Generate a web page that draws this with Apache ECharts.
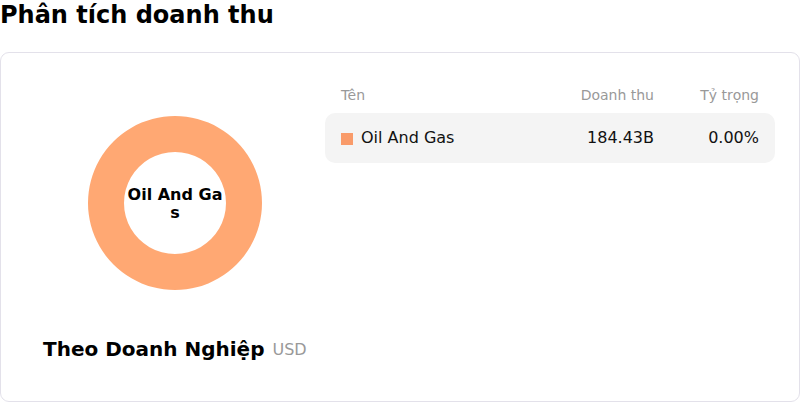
<!DOCTYPE html>
<html>
<head>
<meta charset="utf-8">
<script src="https://cdn.jsdelivr.net/npm/echarts@6/dist/echarts.min.js"></script>
<style>
	body { margin: 0; width: 800px; height: 402px; position: relative; font-family: "DejaVu Sans", sans-serif; background: #fff; overflow: hidden; }
	#pageTitle { position: absolute; left: 0; top: 1px; font-size: 24px; font-weight: bold; color: #000; line-height: 28px; }
	#card { position: absolute; left: 0; top: 52px; width: 798px; height: 348px; border: 1px solid #e3e1ea; border-radius: 9px; }
	#revenueChart { position: absolute; left: 0; top: 0; width: 800px; height: 402px; }
	.th { position: absolute; top: 86px; font-size: 14px; color: #999; line-height: 18px; }
	.row { position: absolute; left: 325px; width: 450px; height: 50px; background: #f4f4f4; border-radius: 10px; }
	.cell { position: absolute; font-size: 16px; color: #111; line-height: 20px; top: 15px; }
	.swatch { position: absolute; left: 16px; top: 20px; width: 12px; height: 12px; }
</style>
</head>
<body>
<div id="pageTitle">Phân tích doanh thu</div>
<div id="card"></div>
<div id="revenueChart"></div>
<div id="table"></div>
<script>
//dữ liệu doanh thu theo doanh nghiệp
var categories = ['Oil And Gas'];
var revenue = [184.43]; // tỷ USD
var revenueLabels = ['184.43B'];
var shareLabels = ['0.00%'];
var headers = ['Tên', 'Doanh thu', 'Tỷ trọng'];
var colors = ['#ffa873'];
var swatchColors = ['#f99b6a'];

//bảng bên phải
function drawTable() {
	var box = document.getElementById('table');
	var html = '';
	html += '<div class="th" style="left:341px">' + headers[0] + '</div>';
	html += '<div class="th" style="right:146px">' + headers[1] + '</div>';
	html += '<div class="th" style="right:41px">' + headers[2] + '</div>';
	for(var i = 0; i < categories.length; i++) {
		var top = 113 + i * 50;
		html += '<div class="row" style="top:' + top + 'px">' +
			'<div class="swatch" style="background:' + swatchColors[i] + '"></div>' +
			'<div class="cell" style="left:36px">' + categories[i] + '</div>' +
			'<div class="cell" style="right:121px">' + revenueLabels[i] + '</div>' +
			'<div class="cell" style="right:16px">' + shareLabels[i] + '</div>' +
			'</div>';
	}
	box.innerHTML = html;
}

//biểu đồ vòng
function drawDonut() {
	var myChart = echarts.init(document.getElementById('revenueChart'), null, { renderer: 'svg' });
	var pieData = [];
	for(var i = 0; i < categories.length; i++) {
		pieData.push({ name: categories[i], value: revenue[i], itemStyle: { color: colors[i] } });
	}
	var option = {
		animation: false,
		title: {
			text: '{a|Theo Doanh Nghiệp}{b|USD}',
			left: 38,
			top: 331,
			textStyle: {
				rich: {
					a: { fontFamily: 'DejaVu Sans', fontSize: 20, fontWeight: 'bold', color: '#000', lineHeight: 26 },
					b: { fontFamily: 'DejaVu Sans', fontSize: 16, fontWeight: 'normal', color: '#999', lineHeight: 26, padding: [0, 0, 0, 8] }
				}
			}
		},
		series: [{
			type: 'pie',
			center: [175, 203],
			radius: [51, 87],
			silent: true,
			label: {
				position: 'center',
				formatter: '{b}',
				fontFamily: 'DejaVu Sans',
				fontSize: 16,
				fontWeight: 'bold',
				color: '#000',
				width: 100,
				overflow: 'breakAll',
				lineHeight: 18
			},
			labelLine: { show: false },
			data: pieData
		}]
	};
	myChart.setOption(option);
}

drawTable();
drawDonut();
</script>
</body>
</html>
